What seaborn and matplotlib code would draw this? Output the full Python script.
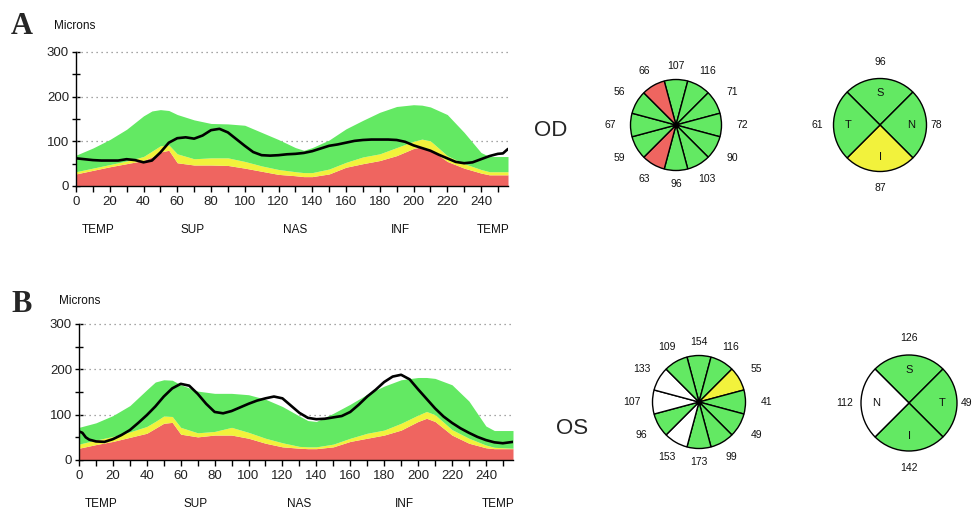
import numpy as np
import pandas as pd
import matplotlib
matplotlib.use('Agg')
import matplotlib.pyplot as plt
import matplotlib.transforms as mtransforms
from matplotlib.ticker import MultipleLocator
import seaborn as sns

sns.set_style('white')
plt.rcParams['font.family'] = ['Liberation Sans', 'DejaVu Sans']

GREEN = '#63E963'
YELLOW = '#F2F23C'
RED = '#EF6560'
WHITE = '#FFFFFF'
STATUS_COLORS = {'g': GREEN, 'y': YELLOW, 'r': RED, 'w': WHITE}

# ---------------- data ----------------
band_x = [0, 10, 20, 30, 40, 45, 50, 55, 60, 70, 80, 90, 100, 110, 120, 130, 135,
          140, 150, 160, 170, 180, 190, 200, 205, 210, 220, 230, 240, 245, 256]

od_p95 = [69, 85, 104, 127, 157, 168, 171, 169, 160, 148, 140, 139, 136, 120, 104, 86, 80,
          86, 103, 128, 147, 165, 178, 182, 181, 177, 160, 120, 75, 66, 66]
od_p5 = [32, 40, 48, 56, 66, 78, 90, 92, 72, 61, 63, 63, 55, 45, 37, 32, 30,
         30, 38, 53, 65, 72, 86, 100, 105, 101, 68, 50, 37, 32, 32]
od_p1 = [27, 35, 43, 50, 57, 65, 76, 80, 52, 47, 47, 46, 40, 33, 26, 23, 21,
         21, 27, 42, 50, 57, 68, 84, 88, 82, 55, 40, 29, 25, 25]

os_p95 = [72, 82, 98, 120, 155, 172, 177, 176, 166, 152, 147, 147, 144, 134, 118, 97, 87,
          85, 103, 123, 145, 163, 177, 182, 182, 180, 166, 130, 75, 65, 65]
os_p5 = [35, 44, 52, 62, 74, 85, 97, 96, 72, 60, 63, 72, 61, 48, 38, 30, 29,
         29, 35, 48, 59, 66, 81, 99, 107, 100, 67, 48, 33, 28, 26]
os_p1 = [26, 34, 41, 50, 59, 70, 81, 83, 57, 51, 55, 55, 48, 37, 29, 26, 25,
         25, 29, 41, 48, 55, 66, 85, 92, 85, 55, 37, 27, 25, 25]

od_line_x = [0, 5, 10, 15, 20, 25, 30, 35, 40, 45, 50, 55, 60, 65, 70, 75, 80, 85, 90, 95,
             100, 105, 110, 115, 120, 125, 130, 135, 140, 145, 150, 155, 160, 165, 170, 175,
             180, 185, 190, 195, 200, 205, 210, 215, 220, 225, 230, 235, 240, 245, 250, 253, 256]
od_line = [62, 60, 58, 57, 57, 57, 60, 58, 53, 57, 75, 97, 107, 109, 106, 113, 125, 128, 120, 105,
           90, 76, 69, 68, 69, 71, 72, 74, 78, 84, 90, 93, 97, 101, 103, 104,
           104, 104, 103, 99, 91, 85, 79, 70, 62, 54, 51, 53, 60, 67, 72, 73, 83]

os_line_x = [0, 2, 4, 6, 10, 15, 20, 25, 30, 35, 40, 45, 50, 55, 60, 65, 70, 75, 80, 85, 90, 95,
             100, 105, 110, 115, 120, 125, 130, 135, 140, 145, 150, 155, 160, 165, 170, 175,
             180, 185, 190, 195, 200, 205, 210, 215, 220, 225, 230, 235, 240, 245, 250, 256]
os_line = [63, 60, 50, 45, 41, 40, 46, 55, 66, 82, 99, 118, 140, 158, 168, 164, 146, 124, 106, 103,
           108, 116, 124, 131, 136, 140, 136, 120, 104, 93, 90, 91, 94, 97, 106, 122, 140, 155,
           172, 184, 188, 178, 156, 135, 114, 96, 82, 70, 60, 51, 44, 39, 37, 40]

region_names = ['TEMP', 'SUP', 'NAS', 'INF', 'TEMP']
region_pos = [13, 69, 130, 192, 247]

od_clock = [107, 116, 71, 72, 90, 103, 96, 63, 59, 67, 56, 66]
od_clock_status = ['g', 'g', 'g', 'g', 'g', 'g', 'g', 'r', 'g', 'g', 'g', 'r']
os_clock = [154, 116, 55, 41, 49, 99, 173, 153, 96, 107, 133, 109]
os_clock_status = ['g', 'g', 'y', 'g', 'g', 'g', 'g', 'w', 'g', 'w', 'w', 'g']

od_quad_names = ['S', 'N', 'I', 'T']
od_quad_vals = [96, 78, 87, 61]
od_quad_status = ['g', 'g', 'y', 'g']
os_quad_names = ['S', 'T', 'I', 'N']
os_quad_vals = [126, 49, 142, 112]
os_quad_status = ['g', 'g', 'g', 'w']

W, H = 974, 516
fig = plt.figure(figsize=(W / 100, H / 100), dpi=100)


def ax_px(left, top, w, h):
    return fig.add_axes([left / W, 1 - (top + h) / H, w / W, h / H])


def profile(left, top, w, h, p1, p5, p95, lx, ly):
    ax = ax_px(left, top, w, h)
    df = pd.DataFrame({'x': band_x, 'p1': p1, 'p5': p5, 'p95': p95})
    ax.fill_between(df['x'], 0, df['p1'], color=RED, lw=0, zorder=2)
    ax.fill_between(df['x'], df['p1'], df['p5'], color=YELLOW, lw=0, zorder=2)
    ax.fill_between(df['x'], df['p5'], df['p95'], color=GREEN, lw=0, zorder=2)
    ld = pd.DataFrame({'x': lx, 'y': ly})
    sns.lineplot(data=ld, x='x', y='y', color='black', lw=1.9, ax=ax, zorder=4)
    ax.set_xlim(0, 256)
    ax.set_ylim(0, 300)
    for gy in (100, 200, 300):
        ax.axhline(gy, color='#888888', lw=0.9, ls=(0, (1, 3)), zorder=1, clip_on=False)
    ax.set_xlabel('')
    ax.set_ylabel('')
    for s in ('top', 'right'):
        ax.spines[s].set_visible(False)
    for s in ('left', 'bottom'):
        ax.spines[s].set_color('black')
        ax.spines[s].set_linewidth(1.0)
    ax.xaxis.set_major_locator(MultipleLocator(20))
    ax.xaxis.set_minor_locator(MultipleLocator(10))
    ax.yaxis.set_major_locator(MultipleLocator(100))
    ax.yaxis.set_minor_locator(MultipleLocator(50))
    ax.tick_params(axis='x', which='both', direction='out', length=4, width=1,
                   color='black', labelsize=9.5, pad=3, labelcolor='#222222', bottom=True)
    ax.tick_params(axis='y', which='both', direction='inout', length=6, width=1,
                   color='black', labelsize=9.5, pad=2, labelcolor='#222222', left=True)
    ax.set_facecolor('white')
    tr = mtransforms.blended_transform_factory(ax.transData, ax.transAxes)
    for name, pos in zip(region_names, region_pos):
        ax.text(pos, -44 / h, name, transform=tr, ha='center', va='center',
                fontsize=8.5, color='#111111')
    return ax


profile(76, 52, 432, 134, od_p1, od_p5, od_p95, od_line_x, od_line)
profile(79, 324, 434, 136, os_p1, os_p5, os_p95, os_line_x, os_line)

fig.text(22 / W, 1 - 26 / H, 'A', fontsize=22, fontweight='bold',
         family=['Liberation Serif', 'DejaVu Serif'], ha='center', va='center')
fig.text(22 / W, 1 - 305 / H, 'B', fontsize=22, fontweight='bold',
         family=['Liberation Serif', 'DejaVu Serif'], ha='center', va='center')
fig.text(75 / W, 1 - 26 / H, 'Microns', fontsize=8.5, ha='center', va='center', color='#111111')
fig.text(80 / W, 1 - 301 / H, 'Microns', fontsize=8.5, ha='center', va='center', color='#111111')
fig.text(551 / W, 1 - 130 / H, 'OD', fontsize=16, ha='center', va='center')
fig.text(572 / W, 1 - 429 / H, 'OS', fontsize=16, ha='center', va='center')


def circle_ax(cx, cy, r):
    R = 1.8
    ax = ax_px(cx - R * r, cy - R * r, 2 * R * r, 2 * R * r)
    return ax, R


def clock_pie(cx, cy, r, vals, status):
    ax, R = circle_ax(cx, cy, r)
    cols = [STATUS_COLORS[s] for s in status]
    ax.pie([1] * 12, colors=cols, startangle=105, counterclock=False, radius=1,
           wedgeprops=dict(edgecolor='black', linewidth=1.0))
    ax.scatter([0], [0], s=10, color='black', zorder=5)
    for i, v in enumerate(vals):
        a = np.deg2rad(90 - 30 * i)
        d = 1.3 + 0.15 * abs(np.cos(a))
        ax.text(d * np.cos(a), d * np.sin(a), str(v), ha='center', va='center',
                fontsize=7.5, color='#111111', clip_on=False)
    ax.set_xlim(-R, R)
    ax.set_ylim(-R, R)
    ax.set_aspect('equal')
    ax.axis('off')


def quad_pie(cx, cy, r, names, vals, status):
    ax, R = circle_ax(cx, cy, r)
    cols = [STATUS_COLORS[s] for s in status]
    ax.pie([1] * 4, colors=cols, startangle=135, counterclock=False, radius=1,
           wedgeprops=dict(edgecolor='black', linewidth=1.0))
    for i, (n, v) in enumerate(zip(names, vals)):
        a = np.deg2rad(90 - 90 * i)
        ax.text(0.68 * np.cos(a), 0.68 * np.sin(a), n, ha='center', va='center',
                fontsize=8, color='#111111')
        d = 1.35 if i != 1 else 1.2
        ax.text(d * np.cos(a), d * np.sin(a), str(v), ha='center', va='center',
                fontsize=7.5, color='#111111', clip_on=False)
    ax.set_xlim(-R, R)
    ax.set_ylim(-R, R)
    ax.set_aspect('equal')
    ax.axis('off')


clock_pie(676, 125, 45.5, od_clock, od_clock_status)
quad_pie(880, 125, 46.5, od_quad_names, od_quad_vals, od_quad_status)
clock_pie(699, 402, 46.5, os_clock, os_clock_status)
quad_pie(909, 403, 48, os_quad_names, os_quad_vals, os_quad_status)

fig.savefig('out.png', dpi=100, facecolor='white')
